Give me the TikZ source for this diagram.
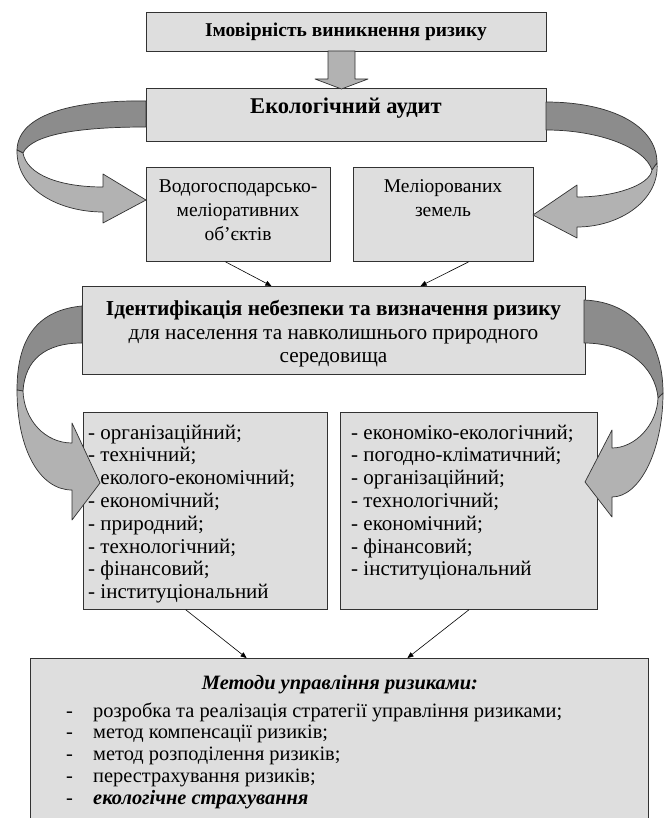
\documentclass[tikz,border=0pt]{standalone}
\usepackage{fontspec}
\setmainfont{Liberation Serif}
\usetikzlibrary{arrows.meta,calc}
\definecolor{boxfill}{RGB}{222,222,222}
\definecolor{bandDark}{RGB}{140,140,140}
\definecolor{bandLight}{RGB}{178,178,178}
\definecolor{edge}{RGB}{50,50,50}
\tikzset{
  box/.style={draw=edge,fill=boxfill,line width=0.8pt,inner sep=0pt,anchor=north west},
  txt/.style={inner sep=0pt,font=\fontsize{19.5}{23.5}\selectfont},
  band/.style={draw=edge,line width=0.7pt,line join=round},
  thinarrow/.style={draw=black,line width=0.6pt,-{Triangle[length=6pt,width=5pt]}},
}
\begin{document}
\begin{tikzpicture}[x=1pt,y=-1pt]
\useasboundingbox (0,0) rectangle (664,818);
\clip (0,0) rectangle (664,818);
\fill[white] (0,0) rectangle (664,818);

% boxes
\node[box,minimum width=400pt,minimum height=39pt] (top) at (146,12) {};
\node[box,minimum width=400pt,minimum height=53pt] (audit) at (146,88) {};
\node[box,minimum width=184pt,minimum height=94pt] (vodo) at (146,167) {};
\node[box,minimum width=180pt,minimum height=94pt] (melio) at (353,167) {};
\node[box,minimum width=503pt,minimum height=88pt] (ident) at (82,286) {};
\node[box,minimum width=244pt,minimum height=197pt] (listL) at (83,412) {};
\node[box,minimum width=257pt,minimum height=197pt] (listR) at (340,412) {};
\node[box,minimum width=618pt,minimum height=180pt] (meth) at (30,658) {};

% texts
\node[txt,anchor=base] (top-t) at (346,37) {\bfseries Імовірність виникнення ризику};
\node[txt,anchor=base,font=\fontsize{22.5}{26}\selectfont] (audit-t) at (346,113.5) {\bfseries Екологічний аудит};
\node[txt,anchor=base] (vodo-t) at (238,192.5) {\parbox[t]{180pt}{\centering\baselineskip=24pt Водогосподарсько-\\меліоративних\\об’єктів}};
\node[txt,anchor=base] (melio-t) at (443,192.5) {\parbox[t]{176pt}{\centering\baselineskip=24pt Меліорованих\\земель}};
\node[txt,anchor=base,font=\fontsize{21.3}{23.5}\selectfont] (ident-t) at (333.5,315.5) {\parbox[t]{500pt}{\centering\baselineskip=23.5pt \textbf{Ідентифікація небезпеки та визначення ризику}\\для населення та навколишнього природного\\середовища}};
\node[txt,anchor=base west,font=\fontsize{21}{23}\selectfont] (listL-t) at (88,439) {\parbox[t]{238pt}{\raggedright\baselineskip=22.8pt
- організаційний;\\
- технічний;\\
- еколого-економічний;\\
- економічний;\\
- природний;\\
- технологічний;\\
- фінансовий;\\
- інституціональний}};
\node[txt,anchor=base west,font=\fontsize{21}{23}\selectfont] (listR-t) at (351,439) {\parbox[t]{244pt}{\raggedright\baselineskip=22.8pt
- економіко-екологічний;\\
- погодно-кліматичний;\\
- організаційний;\\
- технологічний;\\
- економічний;\\
- фінансовий;\\
- інституціональний}};
\node[txt,anchor=base,font=\fontsize{20.4}{22}\selectfont] (meth-t) at (340,689) {\bfseries\itshape Методи управління ризиками:};
\node[txt,anchor=base west,font=\fontsize{20.4}{22}\selectfont] (meth-d) at (66,717) {\parbox[t]{20pt}{\baselineskip=21.8pt -\\-\\-\\-\\-}};
\node[txt,anchor=base west,font=\fontsize{20.4}{22}\selectfont] (meth-l) at (93,717) {\parbox[t]{545pt}{\raggedright\baselineskip=21.8pt
розробка та реалізація стратегії управління ризиками;\\
метод компенсації ризиків;\\
метод розподілення ризиків;\\
перестрахування ризиків;\\
\textbf{\itshape екологічне страхування}}};

% block arrow top -> audit
\draw[band,fill=bandLight] (328,51) -- (355,51) -- (355,79) -- (368,79) -- (341.5,89) -- (315,79) -- (328,79) -- cycle;

% thin arrows
\draw[thinarrow] ($(vodo.south west)!0.43!(vodo.south east)$) -- ($(ident.north west)!0.376!(ident.north east)$);
\draw[thinarrow] ($(melio.south west)!0.64!(melio.south east)$) -- ($(ident.north west)!0.672!(ident.north east)$);
\draw[thinarrow] ($(listL.south west)!0.42!(listL.south east)$) -- ($(meth.north west)!0.35!(meth.north east)$);
\draw[thinarrow] ($(listR.south west)!0.50!(listR.south east)$) -- ($(meth.north west)!0.61!(meth.north east)$);

% curved arrow: audit -> vodo (left)
\draw[band,fill=bandDark] (146,101) .. controls (80,100) and (18,112) .. (17,150) -- (23,153) .. controls (32,134) and (80,127) .. (146,127) -- cycle;
\draw[band,fill=bandLight] (17,150) .. controls (16,190) and (60,212) .. (103,212) -- (103,223) -- (146,200) -- (103,174) -- (103,187) .. controls (60,187) and (27,175) .. (23,153) -- cycle;
% curved arrow: audit -> melio (right)
\draw[band,fill=bandDark] (546,102) .. controls (610,102) and (657,125) .. (657,163) -- (652,170) .. controls (645,148) and (600,130) .. (546,130) -- cycle;
\draw[band,fill=bandLight] (657,163) .. controls (660,200) and (620,227) .. (577,227) -- (577,238) -- (533,215) -- (577,185) -- (577,197) .. controls (615,197) and (650,185) .. (652,170) -- cycle;
% curved arrow: ident -> listL (left)
\draw[band,fill=bandDark] (82,306) .. controls (40,310) and (17,335) .. (17,390) -- (23,391) .. controls (25,360) and (45,343) .. (82,343) -- cycle;
\draw[band,fill=bandLight] (17,390) .. controls (17,450) and (40,490) .. (72,490) -- (72,520) -- (100,483) -- (72,423) -- (72,443) .. controls (45,443) and (24,420) .. (23,391) -- cycle;
% curved arrow: ident -> listR (right)
\draw[band,fill=bandDark] (584,300) .. controls (635,302) and (663,340) .. (663,393) -- (658,398) .. controls (655,365) and (625,343) .. (584,343) -- cycle;
\draw[band,fill=bandLight] (663,393) .. controls (663,450) and (640,497) .. (612,497) -- (612,517) -- (585,482) -- (612,430) -- (612,448) .. controls (635,448) and (657,425) .. (658,398) -- cycle;
\end{tikzpicture}
\end{document}
